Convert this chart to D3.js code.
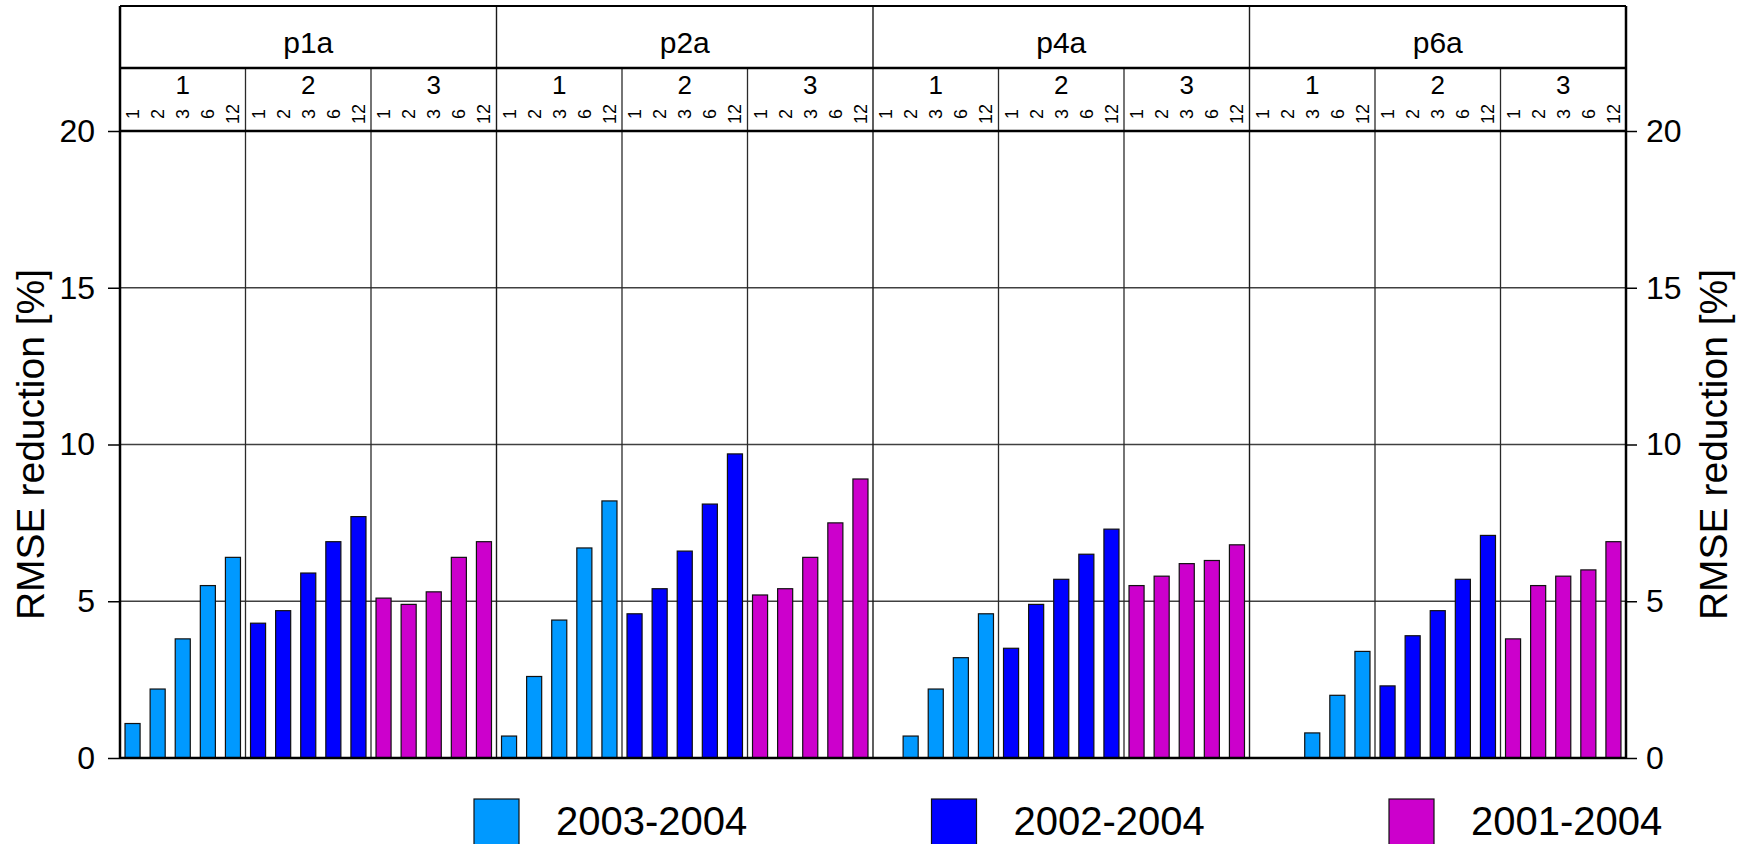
<!DOCTYPE html>
<html>
<head>
<meta charset="utf-8">
<script src="https://cdn.jsdelivr.net/npm/d3@7"></script>
<style>
  html, body { margin: 0; padding: 0; background: #fff; overflow: hidden; }
  svg { display: block; font-family: "Liberation Sans", Arial, Helvetica, sans-serif; }
</style>
</head>
<body>
<svg id="chart" width="1749" height="844"></svg>
<script>
// Predictor sets, training-period groups and lead times (header rows)
const panels = ["p1a", "p2a", "p4a", "p6a"];
const groupLabels = ["1", "2", "3"];
const leadTimes = ["1", "2", "3", "6", "12"];
const yTicks = [0, 5, 10, 15, 20];

// Legend entries, one per training period (group 1, 2, 3)
const seriesNames = ["2003-2004", "2002-2004", "2001-2004"];
const seriesColors = ["#0099ff", "#0000ff", "#cc00cc"];

// RMSE reduction [%], one row per panel, one value per lead time
const train2003 = [
  [1.1, 2.2, 3.8, 5.5, 6.4],
  [0.7, 2.6, 4.4, 6.7, 8.2],
  [0.0, 0.7, 2.2, 3.2, 4.6],
  [0.0, 0.0, 0.8, 2.0, 3.4]
];
const train2002 = [
  [4.3, 4.7, 5.9, 6.9, 7.7],
  [4.6, 5.4, 6.6, 8.1, 9.7],
  [3.5, 4.9, 5.7, 6.5, 7.3],
  [2.3, 3.9, 4.7, 5.7, 7.1]
];
const train2001 = [
  [5.1, 4.9, 5.3, 6.4, 6.9],
  [5.2, 5.4, 6.4, 7.5, 8.9],
  [5.5, 5.8, 6.2, 6.3, 6.8],
  [3.8, 5.5, 5.8, 6.0, 6.9]
];
const seriesValues = [train2003, train2002, train2001];

// Layout
const left = 120, right = 1626;
const headerTop = 6, headerMid = 68, plotTop = 131, plotBottom = 758;
const svg = d3.select("#chart");

const xPanel = d3.scaleBand().domain(panels).range([left, right]);
const xGroup = d3.scaleBand().domain(groupLabels).range([0, xPanel.bandwidth()]);
const xLead = d3.scaleBand().domain(leadTimes).range([0, xGroup.bandwidth()])
  .paddingInner(0.4).paddingOuter(0.2);
const y = d3.scaleLinear().domain([0, 20]).range([plotBottom, plotTop]);

// Flatten to bar records
const bars = [];
panels.forEach((p, pi) => {
  groupLabels.forEach((g, gi) => {
    leadTimes.forEach((l, li) => {
      bars.push({ panel: p, group: g, lead: l, series: gi, value: seriesValues[gi][pi][li] });
    });
  });
});

// Horizontal grid lines
svg.append("g").selectAll("line")
  .data(yTicks.filter(t => t > 0 && t < 20))
  .join("line")
  .attr("x1", left).attr("x2", right)
  .attr("y1", d => y(d)).attr("y2", d => y(d))
  .attr("stroke", "#404040").attr("stroke-width", 1.4);

// Vertical separators between groups (header lower row + plot)
const groupEdges = [];
panels.forEach(p => groupLabels.forEach((g, gi) => {
  if (gi > 0) groupEdges.push(xPanel(p) + xGroup(g));
}));
svg.append("g").selectAll("line")
  .data(groupEdges)
  .join("line")
  .attr("x1", d => d).attr("x2", d => d)
  .attr("y1", headerMid).attr("y2", plotBottom)
  .attr("stroke", "#2a2a2a").attr("stroke-width", 1.3);

// Vertical separators between panels (full height)
svg.append("g").selectAll("line")
  .data(panels.slice(1))
  .join("line")
  .attr("x1", d => xPanel(d)).attr("x2", d => xPanel(d))
  .attr("y1", headerTop).attr("y2", plotBottom)
  .attr("stroke", "#1a1a1a").attr("stroke-width", 1.4);

// Bars
svg.append("g").selectAll("rect")
  .data(bars.filter(d => d.value > 0))
  .join("rect")
  .attr("x", d => xPanel(d.panel) + xGroup(d.group) + xLead(d.lead))
  .attr("width", xLead.bandwidth())
  .attr("y", d => y(d.value))
  .attr("height", d => y(0) - y(d.value))
  .attr("fill", d => seriesColors[d.series])
  .attr("stroke", "#111").attr("stroke-width", 1.2);

// Header texts
svg.append("g").selectAll("text")
  .data(panels)
  .join("text")
  .attr("x", d => xPanel(d) + xPanel.bandwidth() / 2)
  .attr("y", 53)
  .attr("text-anchor", "middle")
  .attr("font-size", 30)
  .text(d => d);

const groupCells = [];
panels.forEach(p => groupLabels.forEach(g => groupCells.push({ p, g })));
svg.append("g").selectAll("text")
  .data(groupCells)
  .join("text")
  .attr("x", d => xPanel(d.p) + xGroup(d.g) + xGroup.bandwidth() / 2)
  .attr("y", 94)
  .attr("text-anchor", "middle")
  .attr("font-size", 26)
  .text(d => d.g);

const leadFs = 18;
const leadCells = [];
groupCells.forEach(c => leadTimes.forEach(l => leadCells.push({ p: c.p, g: c.g, l })));
svg.append("g").selectAll("text")
  .data(leadCells)
  .join("text")
  .attr("transform", d => {
    const cx = xPanel(d.p) + xGroup(d.g) + xLead(d.l) + xLead.bandwidth() / 2;
    return `translate(${cx + leadFs * 0.36},114) rotate(-90)`;
  })
  .attr("text-anchor", "middle")
  .attr("font-size", leadFs)
  .text(d => d.l);

// Frame lines
const frame = svg.append("g").attr("stroke", "#000").attr("stroke-width", 2.5);
frame.append("line").attr("x1", left).attr("x2", right).attr("y1", headerTop).attr("y2", headerTop).attr("stroke-width", 2);
frame.append("line").attr("x1", left).attr("x2", right).attr("y1", headerMid).attr("y2", headerMid);
frame.append("line").attr("x1", left).attr("x2", right).attr("y1", plotTop).attr("y2", plotTop);
frame.append("line").attr("x1", left).attr("x2", right).attr("y1", plotBottom).attr("y2", plotBottom);
frame.append("line").attr("x1", left).attr("x2", left).attr("y1", headerTop).attr("y2", plotBottom);
frame.append("line").attr("x1", right).attr("x2", right).attr("y1", headerTop).attr("y2", plotBottom);

// Y axes (left and right)
function styleAxis(g) {
  g.select(".domain").remove();
  g.selectAll(".tick line").attr("stroke", "#000").attr("stroke-width", 1.5);
  g.selectAll(".tick text").attr("font-size", 32).attr("fill", "#000")
    .attr("font-family", "'Liberation Sans', Arial, sans-serif");
}
svg.append("g").attr("transform", `translate(${left},0)`)
  .call(d3.axisLeft(y).tickValues(yTicks).tickSize(12).tickPadding(13).tickFormat(d3.format("d")))
  .call(styleAxis);
svg.append("g").attr("transform", `translate(${right},0)`)
  .call(d3.axisRight(y).tickValues(yTicks).tickSize(11).tickPadding(9).tickFormat(d3.format("d")))
  .call(styleAxis);

// Axis titles
const yMid = (plotTop + plotBottom) / 2;
svg.append("text")
  .attr("transform", `translate(44,${yMid}) rotate(-90)`)
  .attr("text-anchor", "middle").attr("font-size", 39)
  .text("RMSE reduction [%]");
svg.append("text")
  .attr("transform", `translate(1727,${yMid}) rotate(-90)`)
  .attr("text-anchor", "middle").attr("font-size", 39)
  .text("RMSE reduction [%]");

// Legend
const legend = svg.append("g").selectAll("g")
  .data(seriesNames)
  .join("g")
  .attr("transform", (d, i) => `translate(${474 + i * 457.5},0)`);
legend.append("rect")
  .attr("x", 0).attr("y", 799).attr("width", 45).attr("height", 60)
  .attr("fill", (d, i) => seriesColors[i])
  .attr("stroke", "#111").attr("stroke-width", 1.2);
legend.append("text")
  .attr("x", 82).attr("y", 835)
  .attr("font-size", 40)
  .text(d => d);
</script>
</body>
</html>
